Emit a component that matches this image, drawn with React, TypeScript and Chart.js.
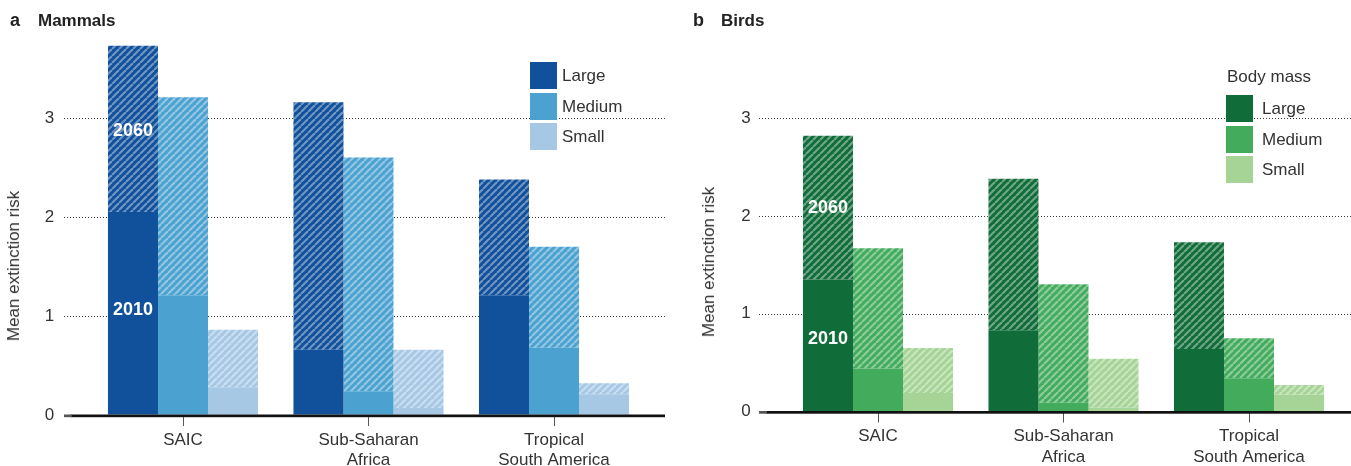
import React, { useEffect, useRef } from 'react';
import { Chart, registerables } from 'chart.js';

Chart.register(...registerables);

const FONT = "'Liberation Sans', Arial, sans-serif";
const TEXT = '#333333';

// ---- data ----
const categories: string[][] = [['SAIC'], ['Sub-Saharan', 'Africa'], ['Tropical', 'South America']];
const sizeClasses = ['Large', 'Medium', 'Small'];
const yTickValues = [0, 1, 2, 3];
const gridValues = [1, 2, 3];

// Mammals: mean extinction risk in 2010 and 2060
const mammals2010Large = [2.05, 0.66, 1.21];
const mammals2060Large = [3.73, 3.16, 2.38];
const mammals2010Medium = [1.21, 0.24, 0.68];
const mammals2060Medium = [3.21, 2.6, 1.7];
const mammals2010Small = [0.28, 0.07, 0.21];
const mammals2060Small = [0.86, 0.66, 0.32];

// Birds: mean extinction risk in 2010 and 2060
const birds2010Large = [1.35, 0.83, 0.64];
const birds2060Large = [2.82, 2.38, 1.73];
const birds2010Medium = [0.44, 0.09, 0.34];
const birds2060Medium = [1.67, 1.3, 0.75];
const birds2010Small = [0.19, 0.04, 0.17];
const birds2060Small = [0.65, 0.54, 0.27];

// year annotation positions (value units on the y axis)
const mammalsYearLabelValues = [2.87, 1.06];
const birdsYearLabelValues = [2.08, 0.74];
const yearLabels = ['2060', '2010'];

const mammalColors = ['#11519b', '#4ba2d1', '#a6c8e5'];
const birdColors = ['#106c38', '#42ab5c', '#a6d497'];

function makePattern(base: string) {
  const p = 7;
  const c = document.createElement('canvas');
  c.width = p;
  c.height = p;
  const g = c.getContext('2d')!;
  g.fillStyle = base;
  g.fillRect(0, 0, p, p);
  g.strokeStyle = 'rgba(255,255,255,0.4)';
  g.lineWidth = 2.2;
  for (const k of [-1, 0, 1]) {
    g.beginPath();
    g.moveTo(k * p, p);
    g.lineTo(k * p + p, 0);
    g.stroke();
  }
  return g.createPattern(c, 'repeat')!;
}

type PanelSpec = {
  width: number;
  height: number;
  areaLeft: number;
  areaRight: number;
  zeroPx: number;
  ppu: number;
  yMax: number;
  gridLeft: number;
  gridRight: number;
  yTickPadding: number;
  colors: string[];
  v2010: number[][];
  v2060: number[][];
  yearLabelValues: number[];
};

function buildChart(canvas: HTMLCanvasElement, s: PanelSpec) {
  const datasets: any[] = [];
  sizeClasses.forEach((name, i) => {
    datasets.push({
      label: name + ' 2010',
      data: s.v2010[i],
      backgroundColor: s.colors[i],
      stack: name,
      borderWidth: 0,
      barPercentage: 1,
      categoryPercentage: 0.809,
    });
    datasets.push({
      label: name + ' 2060',
      data: s.v2060[i].map((v, j) => v - s.v2010[i][j]),
      backgroundColor: makePattern(s.colors[i]),
      stack: name,
      borderWidth: 0,
      barPercentage: 1,
      categoryPercentage: 0.809,
    });
  });

  const decor = {
    id: 'decor',
    beforeDatasetsDraw(chart: any) {
      const ctx = chart.ctx;
      const y = chart.scales.y;
      ctx.save();
      ctx.strokeStyle = '#3a3a3a';
      ctx.lineWidth = 1;
      ctx.setLineDash([1, 2]);
      for (const v of gridValues) {
        const py = Math.round(y.getPixelForValue(v)) + 0.5;
        ctx.beginPath();
        ctx.moveTo(s.gridLeft, py);
        ctx.lineTo(s.gridRight, py);
        ctx.stroke();
      }
      ctx.restore();
    },
    afterDatasetsDraw(chart: any) {
      const ctx = chart.ctx;
      const y = chart.scales.y;
      const py = y.getPixelForValue(0);
      ctx.save();
      ctx.fillStyle = '#111111';
      ctx.fillRect(s.gridLeft + 7, py - 0.5, s.gridRight - s.gridLeft - 7, 2.7);
      ctx.fillStyle = '#555555';
      ctx.fillRect(s.gridLeft, py - 0.5, 8, 2.7);
      // year annotations in the first bar (Large, first category)
      const bar = chart.getDatasetMeta(0).data[0];
      ctx.fillStyle = '#ffffff';
      ctx.font = `bold 18px ${FONT}`;
      ctx.textAlign = 'center';
      ctx.textBaseline = 'middle';
      yearLabels.forEach((t, i) => {
        ctx.fillText(t, bar.x, y.getPixelForValue(s.yearLabelValues[i]));
      });
      ctx.restore();
    },
  };

  return new Chart(canvas, {
    type: 'bar',
    data: { labels: categories as any, datasets },
    options: {
      responsive: false,
      animation: false,
      devicePixelRatio: 1,
      layout: {
        padding: {
          left: 0,
          right: s.width - s.areaRight,
          top: s.zeroPx - s.yMax * s.ppu,
          bottom: 0,
        },
      },
      plugins: {
        legend: { display: false },
        tooltip: { enabled: false },
        title: { display: false },
      },
      scales: {
        x: {
          stacked: true,
          offset: true,
          grid: {
            display: true,
            drawOnChartArea: false,
            drawTicks: true,
            tickLength: 11,
            color: '#555555',
            lineWidth: 1,
            offset: false,
          },
          border: { display: false },
          ticks: {
            color: TEXT,
            font: { family: FONT, size: 17, lineHeight: 1.2 },
            padding: 4,
            maxRotation: 0,
            autoSkip: false,
          },
          afterFit(scale: any) {
            scale.height = s.height - s.zeroPx;
          },
        },
        y: {
          stacked: true,
          min: 0,
          max: s.yMax,
          grid: {
            display: true,
            drawOnChartArea: false,
            drawTicks: true,
            tickLength: s.yTickPadding - 2,
            tickColor: 'rgba(0,0,0,0)',
            color: 'rgba(0,0,0,0)',
          },
          border: { display: false },
          ticks: {
            color: TEXT,
            font: { family: FONT, size: 17 },
            padding: 2,
          },
          afterBuildTicks(scale: any) {
            scale.ticks = yTickValues.map((v) => ({ value: v }));
          },
          afterFit(scale: any) {
            scale.width = s.areaLeft;
          },
        },
      },
    },
    plugins: [decor],
  });
}

function Panel({ spec, left }: { spec: PanelSpec; left: number }) {
  const ref = useRef<HTMLCanvasElement>(null);
  useEffect(() => {
    const chart = buildChart(ref.current!, spec);
    return () => chart.destroy();
  }, []);
  return (
    <canvas
      ref={ref}
      width={spec.width}
      height={spec.height}
      style={{ position: 'absolute', left, top: 0, width: spec.width, height: spec.height }}
    />
  );
}

const mammalsSpec: PanelSpec = {
  width: 680,
  height: 466,
  areaLeft: 90.25,
  areaRight: 646.75,
  zeroPx: 415,
  ppu: 99,
  yMax: 3.8,
  gridLeft: 64,
  gridRight: 665,
  yTickPadding: 36,
  colors: mammalColors,
  v2010: [mammals2010Large, mammals2010Medium, mammals2010Small],
  v2060: [mammals2060Large, mammals2060Medium, mammals2060Small],
  yearLabelValues: mammalsYearLabelValues,
};

const birdsSpec: PanelSpec = {
  width: 671,
  height: 466,
  areaLeft: 105.25,
  areaRight: 661.75,
  zeroPx: 411.5,
  ppu: 97.8,
  yMax: 3.8,
  gridLeft: 79,
  gridRight: 671,
  yTickPadding: 34.5,
  colors: birdColors,
  v2010: [birds2010Large, birds2010Medium, birds2010Small],
  v2060: [birds2060Large, birds2060Medium, birds2060Small],
  yearLabelValues: birdsYearLabelValues,
};

const abs = (style: React.CSSProperties): React.CSSProperties => ({ position: 'absolute', ...style });

function Legend({ x, y, textOffset, colors, heading }: { x: number; y: number; textOffset: number; colors: string[]; heading?: string }) {
  return (
    <>
      {heading && (
        <div style={abs({ left: x + 1, top: y - 28, fontSize: 17, lineHeight: '20px', color: TEXT, fontFamily: FONT, whiteSpace: 'nowrap' })}>
          {heading}
        </div>
      )}
      {sizeClasses.map((name, i) => (
        <React.Fragment key={name}>
          <div style={abs({ left: x, top: y + i * 30.5, width: 27, height: 27, background: colors[i] })} />
          <div
            style={abs({
              left: x + textOffset,
              top: y + i * 30.5,
              height: 27,
              lineHeight: '27px',
              fontSize: 17,
              color: TEXT,
              fontFamily: FONT,
              whiteSpace: 'nowrap',
            })}
          >
            {name}
          </div>
        </React.Fragment>
      ))}
    </>
  );
}

function Title({ x, letter, text }: { x: number; letter: string; text: string }) {
  const common: React.CSSProperties = { top: 13, fontSize: 17, lineHeight: '16px', fontWeight: 'bold', color: '#222', fontFamily: FONT, whiteSpace: 'nowrap' };
  return (
    <>
      <div style={abs({ ...common, left: x, fontSize: 18, top: 12, fontWeight: 900 })}>{letter}</div>
      <div style={abs({ ...common, left: x + 28 })}>{text}</div>
    </>
  );
}

function YTitle({ cx, cy }: { cx: number; cy: number }) {
  return (
    <div
      style={abs({
        left: cx,
        top: cy,
        transform: 'translate(-50%, -50%) rotate(-90deg)',
        fontSize: 17,
        lineHeight: '20px',
        color: TEXT,
        fontFamily: FONT,
        whiteSpace: 'nowrap',
      })}
    >
      Mean extinction risk
    </div>
  );
}

export default function App() {
  return (
    <div style={{ position: 'fixed', left: 0, top: 0, width: 1351, height: 466, background: '#fff', overflow: 'hidden' }}>
      <Panel spec={mammalsSpec} left={0} />
      <Panel spec={birdsSpec} left={680} />
      <Title x={10} letter="a" text="Mammals" />
      <Title x={693} letter="b" text="Birds" />
      <YTitle cx={14} cy={266} />
      <YTitle cx={709} cy={262} />
      <Legend x={530} y={62} textOffset={32} colors={mammalColors} />
      <Legend x={1226} y={95} textOffset={36} colors={birdColors} heading="Body mass" />
    </div>
  );
}
